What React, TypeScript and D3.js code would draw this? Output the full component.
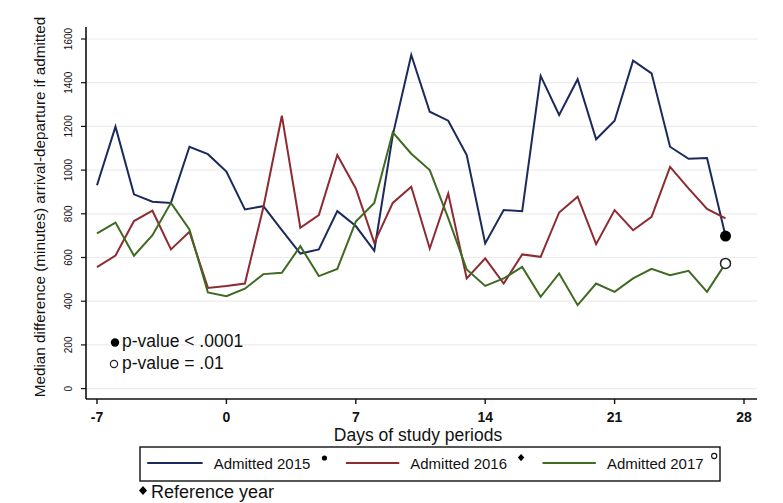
import React from "react";
import * as d3 from "d3";

const days = [-7,-6,-5,-4,-3,-2,-1,0,1,2,3,4,5,6,7,8,9,10,11,12,13,14,15,16,17,18,19,20,21,22,23,24,25,26,27];
const admitted2015 = [931,1199,889,855,850,1107,1073,993,820,835,725,618,637,812,744,631,1160,1527,1267,1226,1069,664,817,812,1431,1252,1416,1141,1226,1501,1443,1107,1052,1055,698];
const admitted2016 = [556,609,767,814,637,718,461,470,481,830,1249,736,794,1069,916,667,850,924,641,893,504,596,481,614,603,806,878,661,817,725,786,1015,916,822,779];
const admitted2017 = [710,760,608,702,850,728,440,423,457,524,530,652,515,548,764,850,1173,1075,1000,780,545,470,504,557,420,527,382,481,443,504,548,519,539,443,573];
const xTicks = [-7, 0, 7, 14, 21, 28];
const yTicks = [0, 200, 400, 600, 800, 1000, 1200, 1400, 1600];
const seriesNames = ["Admitted 2015", "Admitted 2016", "Admitted 2017"];
const colors = ["#1b2a5c", "#8e2b31", "#3f6a22"];

const FONT = "'Liberation Sans', Arial, sans-serif";

export default function App() {
  const W = 783, H = 503;
  const x = d3.scaleLinear().domain([-7, 28]).range([97, 744]);
  const y = d3.scaleLinear().domain([0, 1600]).range([388.6, 39]);
  const series = [admitted2015, admitted2016, admitted2017];
  const line = d3.line<number>().x((_, i) => x(days[i])).y((v) => y(v));
  const axX0 = 86, axX1 = 757, axY0 = 399, axYTop = 27;

  const boxL = 140, boxR = 720, boxT = 447, boxB = 481;
  const bw = boxR - boxL;
  const legendY = 467;
  const items = [
    { l0: 0.0125, l1: 0.108, t: 0.127, m: 0.318, mark: "dot" },
    { l0: 0.355, l1: 0.447, t: 0.466, m: 0.657, mark: "diamond" },
    { l0: 0.694, l1: 0.786, t: 0.805, m: 0.99, mark: "circle" },
  ];

  return (
    <svg width={W} height={H} style={{ position: "absolute", left: 0, top: 0, background: "#fff" }} fontFamily={FONT}>
      <rect x={0} y={0} width={W} height={H} fill="#fff" />
      {yTicks.map((t) => (
        <line key={"g" + t} x1={axX0} x2={axX1} y1={y(t)} y2={y(t)} stroke="#ececec" strokeWidth={1.2} />
      ))}
      {series.map((s, i) => (
        <path key={i} d={line(s) || ""} fill="none" stroke={colors[i]} strokeWidth={2} strokeLinejoin="miter" />
      ))}
      <circle cx={x(days[days.length - 1])} cy={y(admitted2015[admitted2015.length - 1])} r={5.5} fill="#000" />
      <circle cx={x(days[days.length - 1])} cy={y(admitted2017[admitted2017.length - 1])} r={5} fill="#fff" stroke="#222" strokeWidth={1.5} />
      <line x1={axX0} x2={axX0} y1={axYTop} y2={axY0} stroke="#111" strokeWidth={1.6} />
      <line x1={axX0} x2={axX1} y1={axY0} y2={axY0} stroke="#111" strokeWidth={1.6} />
      {yTicks.map((t) => (
        <g key={"yt" + t}>
          <line x1={axX0 - 5} x2={axX0} y1={y(t)} y2={y(t)} stroke="#111" strokeWidth={1.2} />
          <text x={0} y={0} transform={`translate(72,${y(t)}) rotate(-90)`} textAnchor="middle" fontSize={10} fill="#111">{t}</text>
        </g>
      ))}
      {xTicks.map((t) => (
        <g key={"xt" + t}>
          <line x1={x(t)} x2={x(t)} y1={axY0} y2={axY0 + 5} stroke="#111" strokeWidth={1.4} />
          <text x={x(t)} y={422} textAnchor="middle" fontSize={14} fontWeight="bold" fill="#111">{t}</text>
        </g>
      ))}
      <text transform={`translate(45,207) rotate(-90)`} textAnchor="middle" fontSize={15.3} fill="#111">
        Median difference (minutes) arrival-departure if admitted
      </text>
      <text x={418} y={441} textAnchor="middle" fontSize={17.5} fill="#111">Days of study periods</text>
      <circle cx={115} cy={342.5} r={4.2} fill="#000" />
      <text x={122} y={347} fontSize={17.5} fill="#111">p-value &lt; .0001</text>
      <circle cx={114} cy={364} r={3.6} fill="#fff" stroke="#222" strokeWidth={1.2} />
      <text x={122} y={369} fontSize={17.5} fill="#111">p-value = .01</text>
      <rect x={boxL} y={boxT} width={bw} height={boxB - boxT} fill="#fff" stroke="#111" strokeWidth={1.4} />
      {items.map((it, i) => (
        <g key={"lg" + i}>
          <line x1={boxL + it.l0 * bw} x2={boxL + it.l1 * bw} y1={legendY - 4} y2={legendY - 4} stroke={colors[i]} strokeWidth={2} />
          <text x={boxL + it.t * bw} y={legendY + 2} fontSize={15} fill="#111">{seriesNames[i]}</text>
          {it.mark === "dot" && <circle cx={boxL + it.m * bw} cy={legendY - 9} r={2.6} fill="#000" />}
          {it.mark === "diamond" && (
            <path d={`M${boxL + it.m * bw},${legendY - 13} l3.2,3.6 l-3.2,3.6 l-3.2,-3.6 Z`} fill="#000" />
          )}
          {it.mark === "circle" && <circle cx={boxL + it.m * bw} cy={legendY - 11} r={2.6} fill="#fff" stroke="#111" strokeWidth={1.1} />}
        </g>
      ))}
      <path d={`M143,486 l4,4.5 l-4,4.5 l-4,-4.5 Z`} fill="#000" />
      <text x={151} y={498} fontSize={18} fill="#111">Reference year</text>
    </svg>
  );
}
